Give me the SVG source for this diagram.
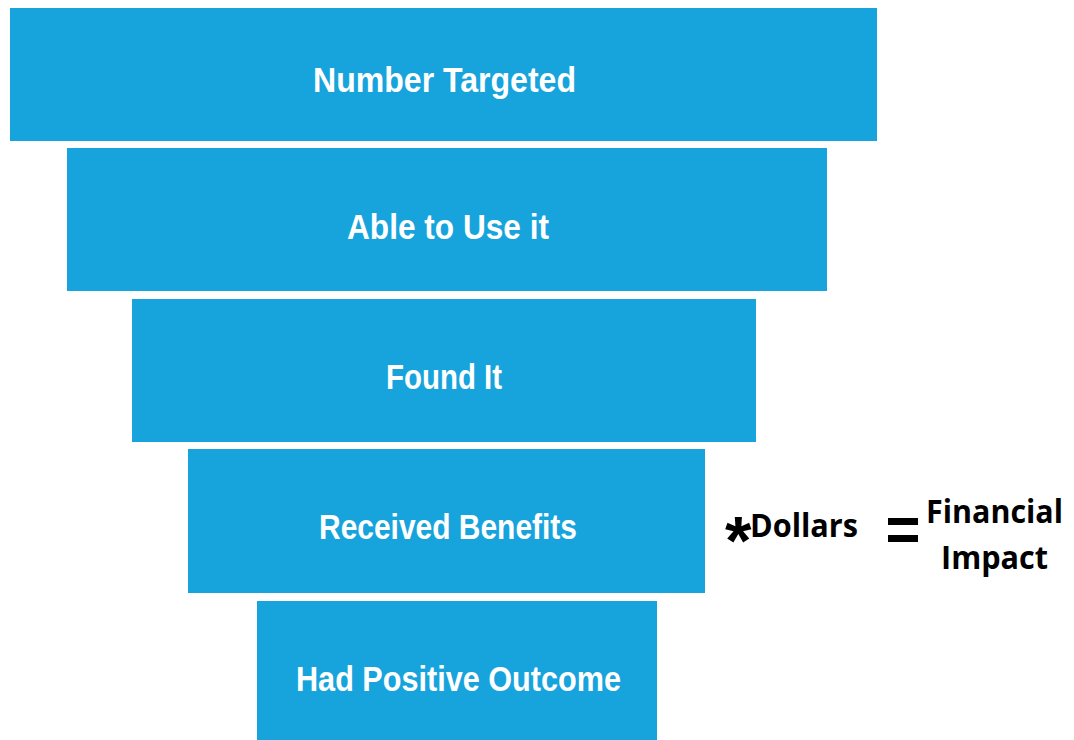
<svg xmlns="http://www.w3.org/2000/svg" width="1074" height="740" viewBox="0 0 1074 740">
<style>
.bar{fill:#17A4DC;}
.lbl{font-family:"Liberation Sans",Arial,sans-serif;font-weight:bold;font-size:35px;fill:#ffffff;}
.side{font-family:"Open Sans","Liberation Sans",sans-serif;font-weight:bold;font-size:33px;fill:#000000;}
</style>
<rect width="1074" height="740" fill="#ffffff"/>
<g id="node-number-targeted">
<rect class="bar" x="10" y="8" width="867" height="133"/>
<text class="lbl" x="313" y="92" textLength="263" lengthAdjust="spacingAndGlyphs">Number Targeted</text>
</g>
<g id="node-able-to-use">
<rect class="bar" x="67" y="148" width="760" height="143"/>
<text class="lbl" x="347" y="239" textLength="202" lengthAdjust="spacingAndGlyphs">Able to Use it</text>
</g>
<g id="node-found-it">
<rect class="bar" x="132" y="299" width="624" height="143"/>
<text class="lbl" x="386" y="389" textLength="116" lengthAdjust="spacingAndGlyphs">Found It</text>
</g>
<g id="node-received-benefits">
<rect class="bar" x="188" y="449" width="517" height="144"/>
<text class="lbl" x="319" y="539" textLength="258" lengthAdjust="spacingAndGlyphs">Received Benefits</text>
</g>
<g id="node-positive-outcome">
<rect class="bar" x="257" y="601" width="400" height="139"/>
<text class="lbl" x="296" y="691" textLength="325" lengthAdjust="spacingAndGlyphs">Had Positive Outcome</text>
</g>
<g id="node-formula">
<text x="725" y="564" font-family="Liberation Sans,sans-serif" font-weight="bold" font-size="68" fill="#000000">*</text>
<text class="side" x="750" y="537" textLength="108" lengthAdjust="spacingAndGlyphs">Dollars</text>
<rect x="888" y="518" width="30" height="7" fill="#000000"/>
<rect x="888" y="535" width="30" height="7" fill="#000000"/>
<text class="side" x="926" y="523" textLength="137" lengthAdjust="spacingAndGlyphs">Financial</text>
<text class="side" x="941" y="569" textLength="107" lengthAdjust="spacingAndGlyphs">Impact</text>
</g>
<g id="connectors"></g>
</svg>
